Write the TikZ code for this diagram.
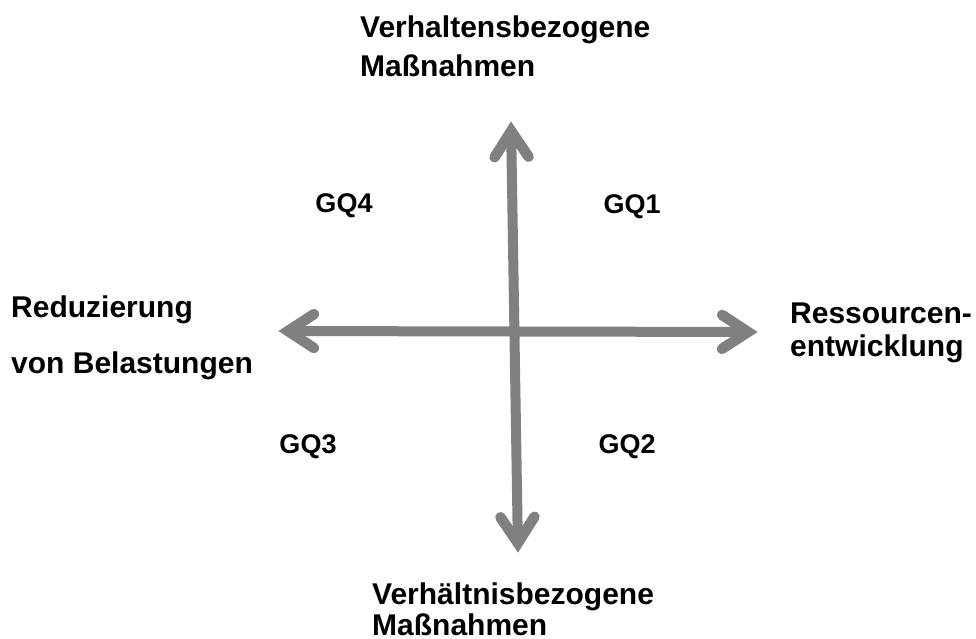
\documentclass[tikz,border=0pt]{standalone}
\usepackage{fontspec}
\setmainfont{Liberation Sans}
\usetikzlibrary{calc}
\definecolor{axisgray}{RGB}{128,128,128}
\begin{document}
\begin{tikzpicture}[x=1pt,y=-1pt,
  axis/.style={draw=axisgray, line width=10pt},
  head/.style={draw=axisgray, line width=10.5pt, line cap=round, line join=miter},
  lbl/.style={font=\fontsize{30}{36}\selectfont\bfseries, align=left, inner sep=0pt, anchor=north west},
  gq/.style={font=\fontsize{27}{32}\selectfont\bfseries, inner sep=0pt}]
\useasboundingbox (0,0) rectangle (976,639);
\coordinate (c) at (515,331);
\coordinate (tN) at (511,122);
\coordinate (tS) at (518,552);
\coordinate (tW) at (279,331);
\coordinate (tE) at (757,332);
% shafts
\draw[axis] ($(tS)!10pt!(tN)$) -- ($(tN)!10pt!(tS)$);
\draw[axis] ($(tW)!10pt!(tE)$) -- ($(tE)!10pt!(tW)$);
% heads
\foreach \t/\o in {tN/tS, tS/tN, tW/tE, tE/tW}{
  \draw[head] ($(\t)!38.9pt!25.9:(\o)$) -- ($(\t)!9pt!(\o)$) -- ($(\t)!38.9pt!-25.9:(\o)$);
}
% axis labels
\node[lbl] (top) at (360,15.5) {Verhaltensbezogene\\[3pt]Maßnahmen};
\node[lbl] (bot) at (372,582.5) {Verhältnisbezogene\\[-5pt]Maßnahmen};
\node[lbl] (left) at (11,295.5) {Reduzierung\\[20pt]von Belastungen};
\node[lbl] (right) at (790,303) {Ressourcen-\\[-3pt]entwicklung};
% quadrant labels
\node[gq] (gq4) at (344,206) {GQ4};
\node[gq] (gq1) at (632,207) {GQ1};
\node[gq] (gq3) at (308,447) {GQ3};
\node[gq] (gq2) at (627,447) {GQ2};
\end{tikzpicture}
\end{document}
